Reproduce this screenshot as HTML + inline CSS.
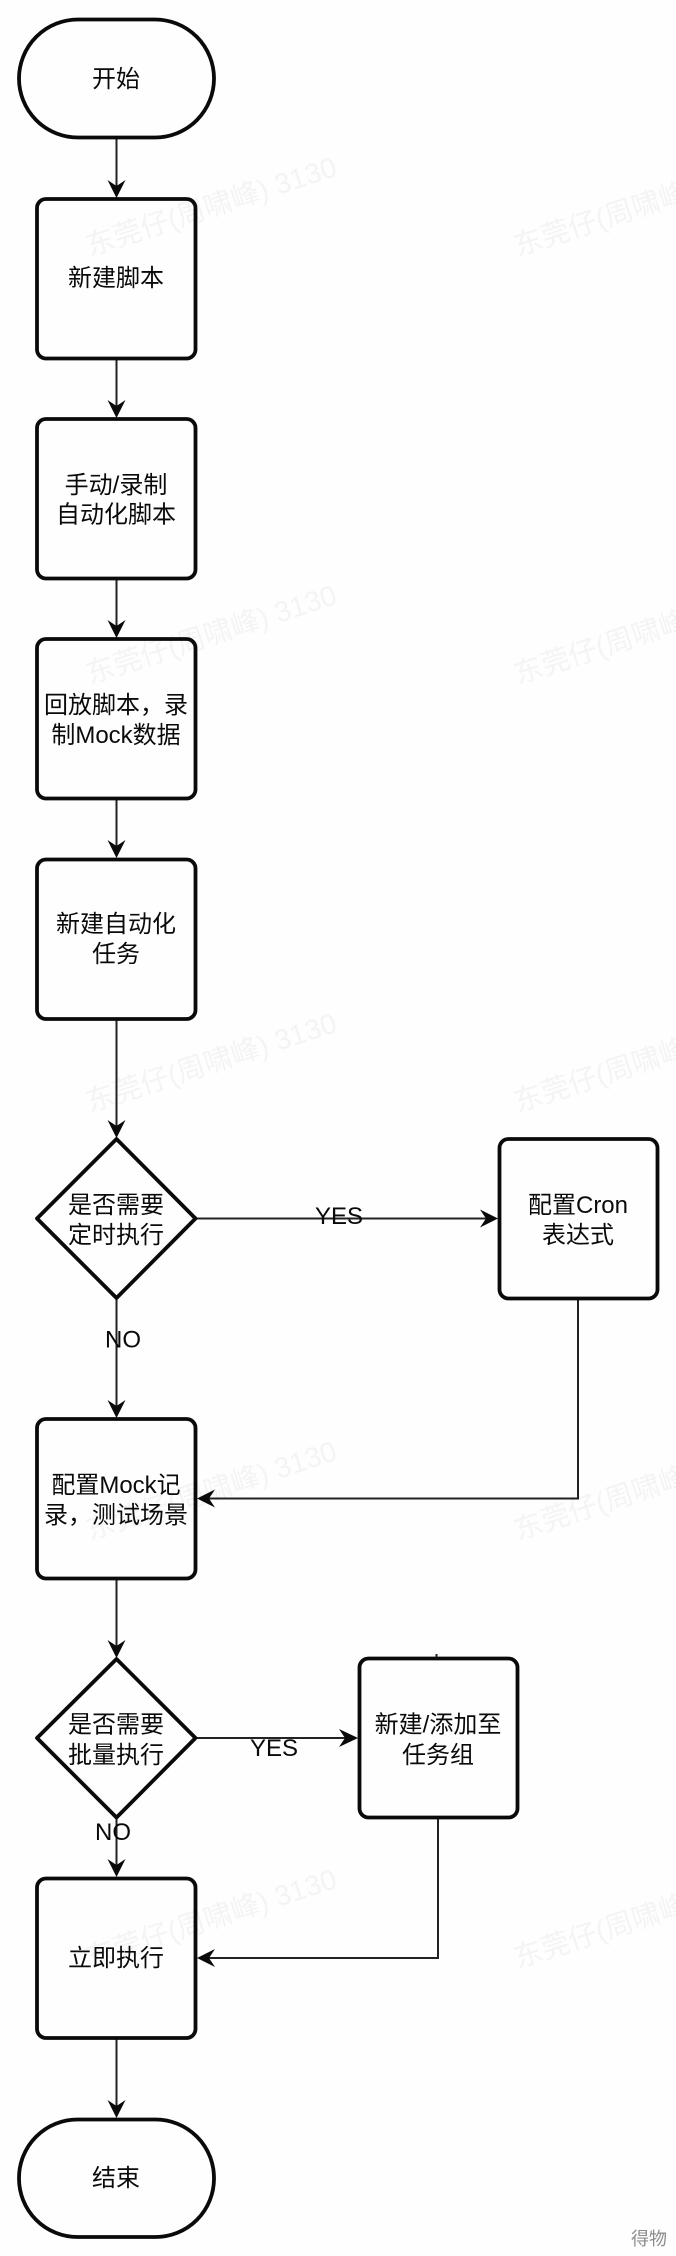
<!DOCTYPE html>
<html><head><meta charset="utf-8"><style>
html,body{margin:0;padding:0;background:#fefefe}
svg{display:block}
text{font-family:"Liberation Sans","Noto Sans CJK SC",sans-serif;font-size:24px;fill:#0a0a0a;text-anchor:middle}
.wm{font-size:28.5px;fill:#f3f4f3;text-anchor:start}
.s{fill:none;stroke:#0a0a0a;stroke-width:3.8;stroke-linejoin:round}
.l{fill:none;stroke:#222;stroke-width:2}
.a{fill:#0a0a0a}
</style></head><body>
<svg width="676" height="2256" viewBox="0 0 676 2256" xmlns="http://www.w3.org/2000/svg">
<rect width="676" height="2256" fill="#fefefe"/>
<g class="wm-g">
<text class="wm" transform="translate(90,256) rotate(-18)">东莞仔(周啸峰) 3130</text>
<text class="wm" transform="translate(518,256) rotate(-18)">东莞仔(周啸峰) 3130</text>
<text class="wm" transform="translate(90,684) rotate(-18)">东莞仔(周啸峰) 3130</text>
<text class="wm" transform="translate(518,684) rotate(-18)">东莞仔(周啸峰) 3130</text>
<text class="wm" transform="translate(90,1112) rotate(-18)">东莞仔(周啸峰) 3130</text>
<text class="wm" transform="translate(518,1112) rotate(-18)">东莞仔(周啸峰) 3130</text>
<text class="wm" transform="translate(90,1540) rotate(-18)">东莞仔(周啸峰) 3130</text>
<text class="wm" transform="translate(518,1540) rotate(-18)">东莞仔(周啸峰) 3130</text>
<text class="wm" transform="translate(90,1968) rotate(-18)">东莞仔(周啸峰) 3130</text>
<text class="wm" transform="translate(518,1968) rotate(-18)">东莞仔(周啸峰) 3130</text>
</g>

<!-- connectors -->
<path class="l" d="M116.5 138V190M116.5 359V410M116.5 579V630M116.5 799V850M116.5 1019V1130M116.5 1299V1410M116.5 1578V1650M116.5 1818V1870M116.5 2039V2110"/>
<path class="l" d="M197 1218.5H490M578 1299V1498.5H205"/>
<path class="l" d="M197 1738H350M438 1818V1958H205"/>

<!-- arrowheads -->
<path class="a" d="M116.5 198L107.5 180L116.5 186L125.5 180Z"/>
<path class="a" d="M116.5 418L107.5 400L116.5 406L125.5 400Z"/>
<path class="a" d="M116.5 638L107.5 620L116.5 626L125.5 620Z"/>
<path class="a" d="M116.5 858L107.5 840L116.5 846L125.5 840Z"/>
<path class="a" d="M116.5 1138L107.5 1120L116.5 1126L125.5 1120Z"/>
<path class="a" d="M116.5 1418L107.5 1400L116.5 1406L125.5 1400Z"/>
<path class="a" d="M116.5 1658L107.5 1640L116.5 1646L125.5 1640Z"/>
<path class="a" d="M116.5 1877L107.5 1859L116.5 1865L125.5 1859Z"/>
<path class="a" d="M116.5 2118L107.5 2100L116.5 2106L125.5 2100Z"/>
<path class="a" d="M498 1218.5L480 1209.5L486 1218.5L480 1227.5Z"/>
<path class="a" d="M197 1498.5L215 1489.5L209 1498.5L215 1507.5Z"/>
<path class="a" d="M358 1738L339 1729L345 1738L339 1747Z"/>
<path class="a" d="M197 1958L215 1949L209 1958L215 1967Z"/>

<!-- nodes -->
<rect class="s" x="19" y="19.5" width="195" height="118" rx="59" ry="59"/>
<rect class="s" x="37" y="199" width="158.5" height="159.5" rx="9"/>
<rect class="s" x="37" y="419" width="158.5" height="159.5" rx="9"/>
<rect class="s" x="37" y="639" width="158.5" height="159.5" rx="9"/>
<rect class="s" x="37" y="859.5" width="158.5" height="159.5" rx="9"/>
<path class="s" d="M116.5 1139L195.5 1218.5L116.5 1298L37 1218.5Z"/>
<rect class="s" x="499.5" y="1139" width="158" height="159.5" rx="9"/>
<rect class="s" x="37" y="1419" width="158.5" height="159.5" rx="9"/>
<path class="s" d="M116.5 1659L195.5 1738L116.5 1817.5L37 1738Z"/>
<rect class="s" x="359.5" y="1658.5" width="158" height="159" rx="9"/>
<path class="l" d="M436.5 1654V1657" stroke-width="1"/>
<rect class="s" x="37" y="1878.5" width="158.5" height="159.5" rx="9"/>
<rect class="s" x="19" y="2119.5" width="195" height="117.5" rx="58.5" ry="58.5"/>

<!-- labels -->
<text x="116" y="87">开始</text>
<text x="116" y="286">新建脚本</text>
<text x="116" y="493">手动/录制</text>
<text x="116" y="522.5">自动化脚本</text>
<text x="116" y="713">回放脚本，录</text>
<text x="116" y="743">制Mock数据</text>
<text x="116" y="932">新建自动化</text>
<text x="116" y="962">任务</text>
<text x="116" y="1213">是否需要</text>
<text x="116" y="1243">定时执行</text>
<text x="578" y="1213">配置Cron</text>
<text x="578" y="1243">表达式</text>
<text x="339" y="1224">YES</text>
<text x="123" y="1347.5">NO</text>
<text x="116" y="1493">配置Mock记</text>
<text x="116" y="1523">录，测试场景</text>
<text x="116" y="1732.5">是否需要</text>
<text x="116" y="1763">批量执行</text>
<text x="438" y="1732.5">新建/添加至</text>
<text x="438" y="1763">任务组</text>
<text x="274" y="1756">YES</text>
<text x="113" y="1840">NO</text>
<text x="116" y="1966">立即执行</text>
<text x="116" y="2186">结束</text>
<text x="649" y="2245" style="font-size:18px;fill:#8c8c8c">得物</text>
</svg>
</body></html>
